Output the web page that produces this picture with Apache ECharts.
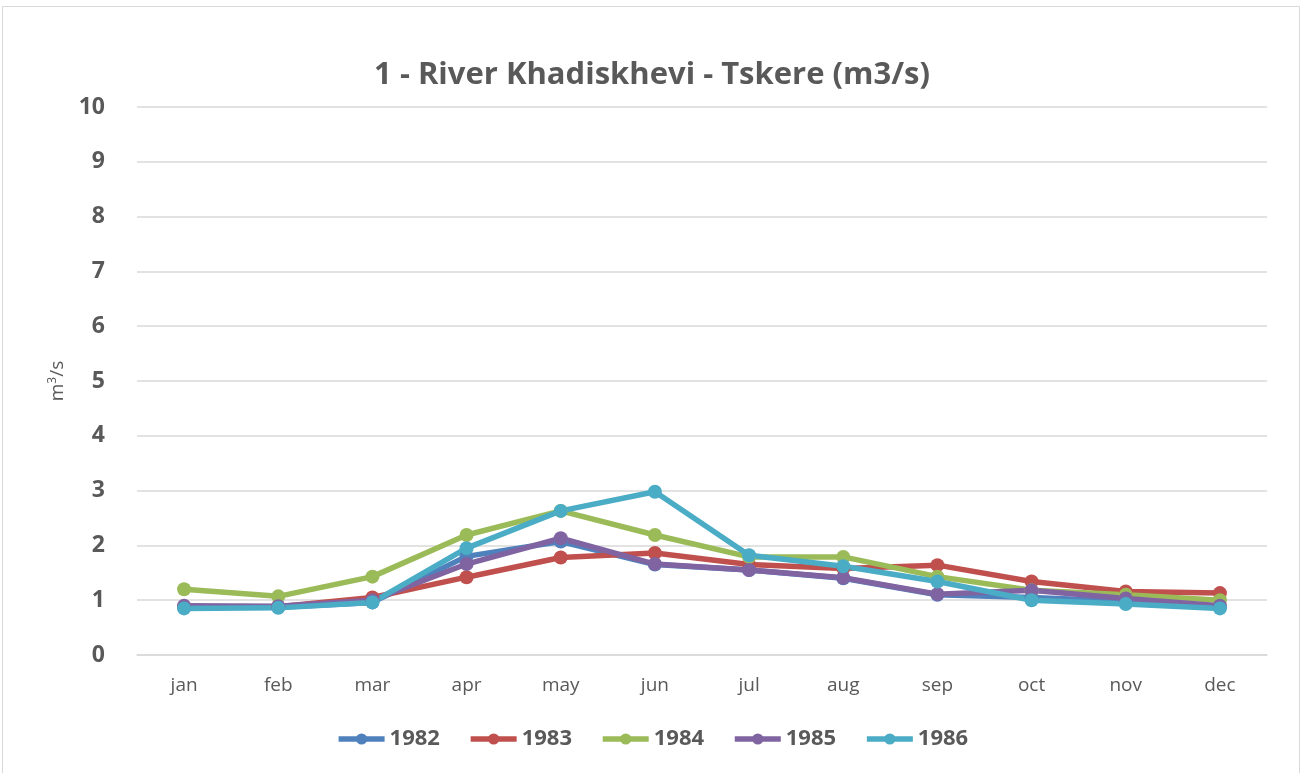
<!DOCTYPE html>
<html>
<head>
<meta charset="UTF-8">
<title>River Khadiskhevi - Tskere</title>
<script src="https://cdn.jsdelivr.net/npm/echarts@6/dist/echarts.min.js"></script>
<style>
	body { margin: 0; background: #fff; }
	#main { width: 1304px; height: 773px; }
</style>
</head>
<body>
<div id="main"></div>
<script type="text/javascript">
var months = ['jan', 'feb', 'mar', 'apr', 'may', 'jun', 'jul', 'aug', 'sep', 'oct', 'nov', 'dec'];
var years = ['1982', '1983', '1984', '1985', '1986'];
var y1982 = [0.87, 0.87, 0.96, 1.80, 2.07, 1.65, 1.55, 1.40, 1.10, 1.05, 0.98, 0.88];
var y1983 = [0.88, 0.88, 1.05, 1.42, 1.78, 1.86, 1.65, 1.58, 1.64, 1.34, 1.16, 1.13];
var y1984 = [1.20, 1.07, 1.43, 2.19, 2.63, 2.19, 1.79, 1.79, 1.43, 1.18, 1.10, 1.00];
var y1985 = [0.90, 0.89, 1.00, 1.66, 2.13, 1.66, 1.55, 1.41, 1.11, 1.18, 1.03, 0.90];
var y1986 = [0.85, 0.86, 0.96, 1.95, 2.63, 2.98, 1.82, 1.62, 1.34, 1.00, 0.93, 0.85];
var yTicks = [0, 1, 2, 3, 4, 5, 6, 7, 8, 9, 10];
var colors = ['#4f81bd', '#c0504d', '#9bbb59', '#8064a2', '#4bacc6'];
var values = [y1982, y1983, y1984, y1985, y1986];

var myChart = echarts.init(document.getElementById('main'));

// 每个年份一条折线
var series = [];
for (var i = 0; i < years.length; i++) {
	series.push({
		name: years[i],
		type: 'line',
		data: values[i],
		symbol: 'circle',
		symbolSize: 14,
		lineStyle: { width: 5.5, color: colors[i] },
		itemStyle: { color: colors[i] }
	});
}

var option = {
	animation: false,
	color: colors,
	textStyle: { fontFamily: 'Open Sans' },
	graphic: [{
		type: 'rect',
		shape: { x: 2.5, y: 6.5, width: 1297, height: 800 },
		style: { fill: 'none', stroke: '#d9d9d9', lineWidth: 1 },
		silent: true
	}],
	title: {
		text: '1 - River Khadiskhevi - Tskere (m3/s)',
		left: 'center',
		top: 55,
		textStyle: { fontSize: 31, fontWeight: 'bold', color: '#595959', fontFamily: 'Open Sans' }
	},
	legend: {
		data: years,
		bottom: 18,
		left: 'center',
		itemWidth: 46,
		itemHeight: 14,
		itemGap: 28,
		lineStyle: { width: 5.5 },
		textStyle: { fontSize: 22, fontWeight: 'bold', color: '#595959' }
	},
	grid: {
		left: 137,
		right: 37,
		top: 107,
		bottom: 118
	},
	xAxis: {
		type: 'category',
		data: months,
		boundaryGap: true,
		axisLine: { lineStyle: { color: '#d9d9d9', width: 1.5 } },
		axisTick: { show: false },
		axisLabel: { fontSize: 19, color: '#595959', margin: 21 }
	},
	yAxis: {
		type: 'value',
		min: yTicks[0],
		max: yTicks[yTicks.length - 1],
		interval: 1,
		name: 'm{sup|3}/s',
		nameLocation: 'middle',
		nameGap: 68,
		nameRotate: 90,
		nameTextStyle: {
			fontSize: 19, color: '#595959',
			rich: { sup: { fontSize: 12, color: '#595959', verticalAlign: 'top', padding: [0, 0, 10, 0] } }
		},
		axisLine: { show: false },
		axisTick: { show: false },
		splitLine: { lineStyle: { color: '#d9d9d9', width: 1.5 } },
		axisLabel: { fontSize: 23, fontWeight: 'bold', color: '#595959', margin: 32 }
	},
	series: series
};

myChart.setOption(option);
</script>
</body>
</html>
